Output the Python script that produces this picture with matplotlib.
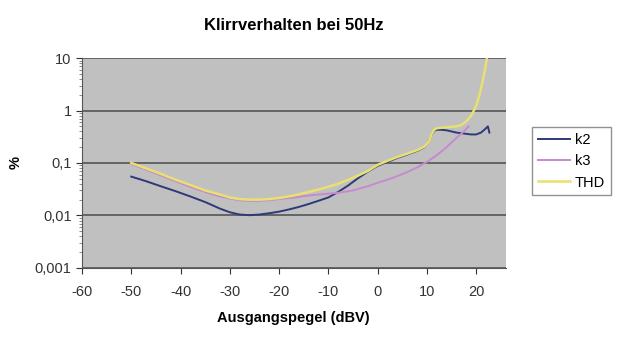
import numpy as np
import matplotlib
matplotlib.use("Agg")
import matplotlib.pyplot as plt
from matplotlib.ticker import FixedLocator, LogLocator, NullFormatter

plt.rcParams['font.family'] = ['Liberation Sans', 'DejaVu Sans']
plt.rcParams['axes.unicode_minus'] = False

# k2
k2_x = [-50, -47, -44, -41, -38, -35, -32, -30, -28, -26, -24, -22, -20, -18, -16, -14, -12, -10, -8, -6, -4, -2, 0,
        2, 4, 6, 8, 9.5, 10.5, 11, 11.5, 12, 13, 14, 15, 16, 17, 18, 19, 20, 21, 21.8, 22.4, 22.7]
k2_y = [0.055, 0.045, 0.036, 0.029, 0.023, 0.018, 0.0135, 0.0115, 0.0104, 0.0101, 0.0104, 0.011, 0.0118, 0.013, 0.0145, 0.0165, 0.019, 0.022, 0.028, 0.037, 0.051, 0.068, 0.088,
        0.105, 0.125, 0.145, 0.17, 0.2, 0.26, 0.35, 0.41, 0.43, 0.43, 0.42, 0.4, 0.38, 0.37, 0.36, 0.35, 0.35, 0.38, 0.44, 0.50, 0.38]

# k3
k3_x = [-50, -47, -44, -41, -38, -35, -32, -30, -28, -26, -24, -22, -20, -17, -14, -11, -8, -5, -2, 0,
        2, 4, 6, 8, 10, 12, 14, 16, 17.5, 18.5]
k3_y = [0.095, 0.075, 0.058, 0.045, 0.035, 0.028, 0.023, 0.021, 0.0195, 0.019, 0.019, 0.0195, 0.0205, 0.022, 0.024, 0.0255, 0.027, 0.03, 0.036, 0.042,
        0.048, 0.056, 0.067, 0.082, 0.105, 0.14, 0.2, 0.3, 0.4, 0.5]

# THD
thd_x = [-50, -47, -44, -41, -38, -35, -32, -30, -28, -26, -24, -22, -20, -17, -14, -11, -8, -5, -2, 0,
         2, 4, 6, 8, 9.5, 10.5, 11, 11.5, 12, 14, 16, 17, 18, 19, 20, 20.7, 21.3, 21.8, 22.2]
thd_y = [0.1, 0.079, 0.062, 0.048, 0.038, 0.03, 0.025, 0.022, 0.0205, 0.02, 0.02, 0.0205, 0.0215, 0.024, 0.028, 0.033, 0.04, 0.052, 0.07, 0.092,
         0.11, 0.13, 0.15, 0.175, 0.205, 0.26, 0.36, 0.43, 0.46, 0.48, 0.5, 0.53, 0.62, 0.8, 1.2, 2.0, 3.5, 6.0, 10.0]

x_ticks = [-60, -50, -40, -30, -20, -10, 0, 10, 20]
y_ticks = [0.001, 0.01, 0.1, 1, 10]
y_labels = ['0,001', '0,01', '0,1', '1', '10']

fig = plt.figure(figsize=(6.23, 3.61), dpi=100)
ax = fig.add_axes([0.1316, 0.258, 0.680, 0.581])
ax.set_facecolor('#c0c0c0')

ax.plot(k2_x, k2_y, color='#2e3a78', lw=1.4, label='k2')
ax.plot(k3_x, k3_y, color='#c68ad0', lw=1.4, label='k3')
ax.plot(thd_x, thd_y, color='#e8e070', lw=1.8, label='THD')

ax.set_yscale('log')
ax.set_ylim(0.001, 10)
ax.set_xlim(-60, 26)
ax.yaxis.set_major_locator(FixedLocator(y_ticks))
ax.set_yticklabels(y_labels)
ax.yaxis.set_minor_locator(LogLocator(base=10, subs=np.arange(2, 10)))
ax.yaxis.set_minor_formatter(NullFormatter())
ax.set_xticks(x_ticks)
ax.grid(axis='y', which='major', color='#555555', lw=1.2)
ax.set_axisbelow(True)

for s in ['top', 'right']:
    ax.spines[s].set_visible(False)
ax.spines['left'].set_color('#555555')
ax.spines['bottom'].set_color('#555555')
ax.tick_params(axis='both', labelsize=10.5, colors='#333333', length=4)
ax.tick_params(axis='x', pad=8)
ax.tick_params(axis='y', which='minor', length=2, colors='#777777')

ax.set_title('Klirrverhalten bei 50Hz', fontsize=12, fontweight='bold', pad=20)
ax.set_xlabel('Ausgangspegel (dBV)', fontsize=10.5, fontweight='bold', labelpad=9)
ax.set_ylabel('%', fontsize=10.5, fontweight='bold', labelpad=9)

leg = fig.legend(loc='upper left', bbox_to_anchor=(0.843, 0.668), fontsize=10.5,
                 frameon=True, fancybox=False, handlelength=2.2, borderpad=0.4,
                 labelspacing=0.5, handletextpad=0.3)
leg.get_frame().set_edgecolor('#777777')
leg.get_frame().set_linewidth(1.0)

fig.savefig('out.png', dpi=100)
